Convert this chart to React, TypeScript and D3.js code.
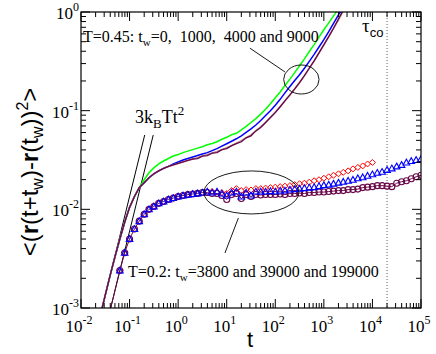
import React from 'react';
import * as d3 from 'd3';

const W = 436;
const H = 354;
const PLOT = { left: 81, right: 421, top: 12, bottom: 308 };

// ---- T = 0.45 (lines) ----
const timesT045 = [0.0251, 0.0316, 0.0398, 0.0501, 0.0631, 0.0794, 0.1, 0.126, 0.158, 0.2, 0.251, 0.316, 0.398, 0.501, 0.631, 0.794, 1, 1.26, 1.58, 2, 2.51, 3.16, 3.98, 5.01, 6.31, 7.94, 10, 12.6, 15.8, 20, 25.1, 31.6, 39.8, 50.1, 63.1, 79.4, 100, 126, 158, 200, 251, 316, 398, 501, 631, 794, 1000, 1260, 1580, 2000, 2510, 3160];
// shared ballistic start (t = 0.0251 .. 0.158)
const earlyT045 = [0.000851, 0.00135, 0.00214, 0.00331, 0.00501, 0.00741, 0.01047, 0.01349, 0.0166];
// shared by tw = 1000, 4000, 9000 (t = 0.2 .. 0.631)
const bundleT045 = [0.01862, 0.02089, 0.02291, 0.02455, 0.026, 0.02723];
const green0 = [0.01995, 0.02344, 0.0263, 0.02884, 0.0309, 0.03273, 0.03467, 0.03589, 0.03758, 0.0389, 0.04027, 0.04169, 0.04315, 0.0452, 0.0465, 0.04842, 0.05129, 0.0537, 0.0570, 0.0590, 0.06383, 0.06918, 0.07586, 0.08318, 0.09226, 0.1035, 0.1175, 0.1349, 0.1549, 0.1799, 0.2089, 0.2427, 0.2851, 0.335, 0.3981, 0.4677, 0.5559, 0.6607, 0.7762, 0.912, 1.072, 1.259, 1.479];
const blue1000 = [0.02884, 0.0302, 0.03162, 0.03273, 0.03388, 0.03508, 0.03631, 0.03758, 0.03936, 0.04121, 0.04365, 0.04624, 0.04898, 0.05188, 0.05559, 0.06026, 0.06531, 0.07161, 0.07943, 0.08913, 0.1, 0.1135, 0.1303, 0.1514, 0.1758, 0.2018, 0.2317, 0.2692, 0.3162, 0.3715, 0.4416, 0.5248, 0.631, 0.7674, 0.9333, 1.122, 1.349];
const brown4000 = [0.02818, 0.02917, 0.0302, 0.03126, 0.03236, 0.0335, 0.03467, 0.03589, 0.03715, 0.03846, 0.04027, 0.04217, 0.04416, 0.04677, 0.04955, 0.05309, 0.05689, 0.06237, 0.06839, 0.07586, 0.08511, 0.09661, 0.1096, 0.1259, 0.1445, 0.166, 0.1928, 0.2265, 0.2692, 0.3199, 0.3846, 0.4624, 0.5623, 0.6839, 0.8318, 1.023, 1.259];
const maroon9000 = [0.02818, 0.02917, 0.0302, 0.03126, 0.03236, 0.03273, 0.03467, 0.03508, 0.03715, 0.03758, 0.04027, 0.04121, 0.04416, 0.04624, 0.04842, 0.05309, 0.05559, 0.06237, 0.06761, 0.07586, 0.08511, 0.0955, 0.1096, 0.1259, 0.1445, 0.166, 0.1928, 0.2265, 0.2692, 0.3199, 0.3846, 0.4677, 0.5623, 0.6839, 0.8511, 1.047, 1.259];

// ---- T = 0.2 (symbols) ----
const timesT02 = [0.0631, 0.0794, 0.1, 0.126, 0.158, 0.2, 0.251, 0.316, 0.398, 0.501, 0.631, 0.794, 1, 1.26, 1.58, 2, 2.51, 3.16, 3.98, 5.01, 6.31, 7.94, 10, 12.6, 15.8, 20, 25.1, 31.6, 39.8, 50.1, 63.1, 79.4, 100, 126, 158, 200, 251, 316, 398, 501, 631, 794, 1000, 1260, 1580, 2000, 2510, 3160, 3980, 5010, 6310, 7940, 10000, 12600, 15800, 20000, 25100, 31600, 39800, 50100, 63100, 79400, 100000];
const earlyT02 = [0.0024, 0.00363, 0.00501, 0.00631, 0.00759, 0.00891, 0.01, 0.0107, 0.0115, 0.012, 0.0126, 0.013, 0.0135, 0.0138, 0.0141, 0.0143, 0.0145, 0.0148];
const red3800 = [0.01514, 0.01514, 0.015, 0.01479, 0.01445, 0.01549, 0.01622, 0.01549, 0.01585, 0.0157, 0.01622, 0.0162, 0.01641, 0.0166, 0.01679, 0.01698, 0.01718, 0.01738, 0.01778, 0.0182, 0.01841, 0.01884, 0.0195, 0.01995, 0.02065, 0.02138, 0.02213, 0.02291, 0.02371, 0.02455, 0.0257, 0.02661, 0.02754, 0.02884, 0.02985];
const blue39000 = [0.01514, 0.01479, 0.01514, 0.01445, 0.0138, 0.01479, 0.01514, 0.01349, 0.01479, 0.0138, 0.01514, 0.01514, 0.01514, 0.01531, 0.01514, 0.01549, 0.01549, 0.01585, 0.01603, 0.01622, 0.01641, 0.0166, 0.01679, 0.01718, 0.01758, 0.01778, 0.0182, 0.01862, 0.01905, 0.0195, 0.01995, 0.02065, 0.02113, 0.02188, 0.02265, 0.02344, 0.02399, 0.02512, 0.026, 0.02723, 0.02818, 0.02985, 0.0309, 0.03162, 0.03236];
const maroon199000 = [0.01479, 0.01445, 0.01445, 0.0138, 0.01259, 0.01413, 0.01445, 0.01288, 0.01413, 0.01349, 0.01413, 0.01396, 0.01413, 0.01413, 0.01413, 0.01429, 0.01413, 0.01445, 0.01445, 0.01462, 0.01445, 0.01479, 0.01479, 0.01496, 0.01496, 0.01514, 0.01531, 0.01549, 0.01549, 0.01585, 0.01585, 0.01603, 0.0166, 0.01679, 0.01698, 0.01738, 0.01738, 0.01718, 0.01698, 0.01841, 0.01905, 0.0195, 0.02042, 0.02138, 0.02213];
const maroonLineStart = [0.0398, 0.00095];

// ballistic 3 kB T t^2 lines: [t0, v0, t1, v1]
const ballisticT045 = [0.025, 0.000844, 0.205, 0.0567];
const ballisticT02 = [0.038, 0.000866, 0.307, 0.0566];
const tauCo = 20000;

const xDecades = [1e-2, 1e-1, 1e0, 1e1, 1e2, 1e3, 1e4, 1e5];
const yDecades = [1e-3, 1e-2, 1e-1, 1e0];

const C = {
  green: '#00ff00',
  blue: '#0000ff',
  brown: '#bc8f8f',
  maroon: '#670748',
  red: '#ff0000',
};

type P = [number, number];
const zip = (ts: number[], vs: number[]): P[] => vs.map((v, i) => [ts[i], v] as P);

export default function App() {
  const x = d3.scaleLog().domain([1e-2, 1e5]).range([PLOT.left, PLOT.right]);
  const y = d3.scaleLog().domain([1e-3, 1]).range([PLOT.bottom, PLOT.top]);
  const line = d3.line<P>().x(d => x(d[0])).y(d => y(d[1]));

  const greenPts = zip(timesT045, [...earlyT045, ...green0]);
  const bluePts = zip(timesT045, [...earlyT045, ...bundleT045, ...blue1000]);
  const brownPts = zip(timesT045, [...earlyT045, ...bundleT045, ...brown4000]);
  const maroonPts = zip(timesT045, [...earlyT045, ...bundleT045, ...maroon9000]);

  const redPts = zip(timesT02, [...earlyT02, ...red3800]);
  const tri = zip(timesT02, [...earlyT02, ...blue39000]);
  const circ = zip(timesT02, [...earlyT02, ...maroon199000]);

  const minorX: number[] = [];
  xDecades.slice(0, -1).forEach(d => { for (let k = 2; k <= 9; k++) minorX.push(d * k); });
  const minorY: number[] = [];
  yDecades.slice(0, -1).forEach(d => { for (let k = 2; k <= 9; k++) minorY.push(d * k); });

  const MAJ = 9, MIN = 5;
  const serif = 'Liberation Serif, Times New Roman, serif';
  const sans = 'Liberation Sans, Arial, sans-serif';

  const diamond = (p: P, i: number) => {
    const cx = x(p[0]), cy = y(p[1]), r = 3;
    return <path key={i} d={`M${cx},${cy - r}L${cx + r},${cy}L${cx},${cy + r}L${cx - r},${cy}Z`} fill="none" stroke={C.red} strokeWidth={1} />;
  };
  const triangle = (p: P, i: number) => {
    const cx = x(p[0]), cy = y(p[1]), r = 3.3;
    return <path key={i} d={`M${cx},${cy - r}L${cx + r},${cy + r * 0.75}L${cx - r},${cy + r * 0.75}Z`} fill="none" stroke={C.blue} strokeWidth={1.1} />;
  };
  const circle = (p: P, i: number) => (
    <circle key={i} cx={x(p[0])} cy={y(p[1])} r={3} fill="none" stroke={C.maroon} strokeWidth={1.1} />
  );

  // annotation positions in data coords
  const ell1 = { t: 344, v: 0.207, rx: 17.7, ry: 14.5 };
  const ell2 = { t: 32.2, v: 0.01483, rx: 47.5, ry: 21.5 };
  const ptr1 = [30, 0.43, 158, 0.247];
  const ptr2 = [9.2, 0.00361, 17.4, 0.00818];

  return (
    <svg width={W} height={H} style={{ position: 'absolute', left: 0, top: 0, background: '#fff' }}>
      <defs>
        <clipPath id="plot">
          <rect x={PLOT.left} y={PLOT.top} width={PLOT.right - PLOT.left} height={PLOT.bottom - PLOT.top} />
        </clipPath>
      </defs>
      <rect x={0} y={0} width={W} height={H} fill="#fff" />

      {/* tau_co dotted line */}
      <line x1={x(tauCo)} x2={x(tauCo)} y1={PLOT.top} y2={PLOT.bottom} stroke="#333" strokeWidth={0.8} strokeDasharray="1,2" />

      <g clipPath="url(#plot)">
        {/* ballistic lines */}
        <line x1={x(ballisticT045[0])} y1={y(ballisticT045[1])} x2={x(ballisticT045[2])} y2={y(ballisticT045[3])} stroke="#000" strokeWidth={1} />
        <line x1={x(ballisticT02[0])} y1={y(ballisticT02[1])} x2={x(ballisticT02[2])} y2={y(ballisticT02[3])} stroke="#000" strokeWidth={1} />

        {/* T=0.45 lines */}
        <path d={line(greenPts) || ''} fill="none" stroke={C.green} strokeWidth={1.5} />
        <path d={line(bluePts) || ''} fill="none" stroke={C.blue} strokeWidth={1.5} />
        <path d={line(brownPts) || ''} fill="none" stroke={C.brown} strokeWidth={1.6} />
        <path d={line(maroonPts) || ''} fill="none" stroke={C.maroon} strokeWidth={1.3} />

        {/* T=0.2 symbols */}
        {redPts.map(diamond)}
        <path d={line([maroonLineStart as P, ...circ]) || ''} fill="none" stroke={C.maroon} strokeWidth={1} />
        {circ.map(circle)}
        {tri.map(triangle)}
      </g>

      {/* annotations */}
      <ellipse cx={x(ell1.t)} cy={y(ell1.v)} rx={ell1.rx} ry={ell1.ry} fill="none" stroke="#000" strokeWidth={0.9} />
      <ellipse cx={x(ell2.t)} cy={y(ell2.v)} rx={ell2.rx} ry={ell2.ry} fill="none" stroke="#000" strokeWidth={0.9} />
      <line x1={x(ptr1[0])} y1={y(ptr1[1])} x2={x(ptr1[2])} y2={y(ptr1[3])} stroke="#000" strokeWidth={0.9} />
      <line x1={x(ptr2[0])} y1={y(ptr2[1])} x2={x(ptr2[2])} y2={y(ptr2[3])} stroke="#000" strokeWidth={0.9} />

      <text x={83} y={42} fontFamily={serif} fontSize={16} style={{ whiteSpace: 'pre' }}>
        T=0.45: t<tspan fontSize={11} dy={4}>w</tspan><tspan dy={-4}>=0,  1000,  4000 and 9000</tspan>
      </text>
      <text x={128} y={277} fontFamily={serif} fontSize={16} style={{ whiteSpace: 'pre' }}>
        T=0.2: t<tspan fontSize={11} dy={4}>w</tspan><tspan dy={-4}>=3800 and 39000 and 199000</tspan>
      </text>
      <text x={135} y={123} fontFamily={serif} fontSize={18}>
        3k<tspan fontSize={13} dy={5}>B</tspan><tspan dy={-5}>Tt</tspan><tspan fontSize={13} dy={-8}>2</tspan>
      </text>
      <text x={362} y={32} fontFamily={serif} fontSize={19}>
        τ<tspan fontFamily={sans} fontSize={13} dy={5}>co</tspan>
      </text>

      {/* frame */}
      <rect x={PLOT.left} y={PLOT.top} width={PLOT.right - PLOT.left} height={PLOT.bottom - PLOT.top} fill="none" stroke="#000" strokeWidth={1.2} />

      {/* x ticks */}
      {xDecades.map(d => (
        <g key={'xm' + d}>
          <line x1={x(d)} x2={x(d)} y1={PLOT.bottom} y2={PLOT.bottom - MAJ} stroke="#000" />
          <line x1={x(d)} x2={x(d)} y1={PLOT.top} y2={PLOT.top + MAJ} stroke="#000" />
          <text x={x(d) - 2} y={332} textAnchor="middle" fontFamily={serif} fontSize={17}>
            10<tspan fontSize={12} dy={-8}>{Math.round(Math.log10(d))}</tspan>
          </text>
        </g>
      ))}
      {minorX.map(d => (
        <g key={'xn' + d}>
          <line x1={x(d)} x2={x(d)} y1={PLOT.bottom} y2={PLOT.bottom - MIN} stroke="#000" />
          <line x1={x(d)} x2={x(d)} y1={PLOT.top} y2={PLOT.top + MIN} stroke="#000" />
        </g>
      ))}
      {/* y ticks */}
      {yDecades.map(d => (
        <g key={'ym' + d}>
          <line x1={PLOT.left} x2={PLOT.left + MAJ} y1={y(d)} y2={y(d)} stroke="#000" />
          <line x1={PLOT.right} x2={PLOT.right - MAJ} y1={y(d)} y2={y(d)} stroke="#000" />
          <text x={79} y={y(d) + 7} textAnchor="end" fontFamily={serif} fontSize={17}>
            10<tspan fontSize={12} dy={-8}>{Math.round(Math.log10(d))}</tspan>
          </text>
        </g>
      ))}
      {minorY.map(d => (
        <g key={'yn' + d}>
          <line x1={PLOT.left} x2={PLOT.left + MIN} y1={y(d)} y2={y(d)} stroke="#000" />
          <line x1={PLOT.right} x2={PLOT.right - MIN} y1={y(d)} y2={y(d)} stroke="#000" />
        </g>
      ))}

      {/* axis titles */}
      <text x={250} y={347} textAnchor="middle" fontFamily={sans} fontSize={22}>t</text>
      <text transform="translate(38,172) rotate(-90)" textAnchor="middle" fontFamily={sans} fontSize={24}>
        {'<('}<tspan fontWeight="bold">r</tspan>{'(t+t'}<tspan fontSize={16} dy={5}>w</tspan><tspan dy={-5}>{')-'}</tspan><tspan fontWeight="bold">r</tspan>{'(t'}<tspan fontSize={16} dy={5}>w</tspan><tspan dy={-5}>{'))'}</tspan><tspan fontSize={16} dy={-10}>2</tspan><tspan dy={10}>{'>'}</tspan>
      </text>
    </svg>
  );
}
